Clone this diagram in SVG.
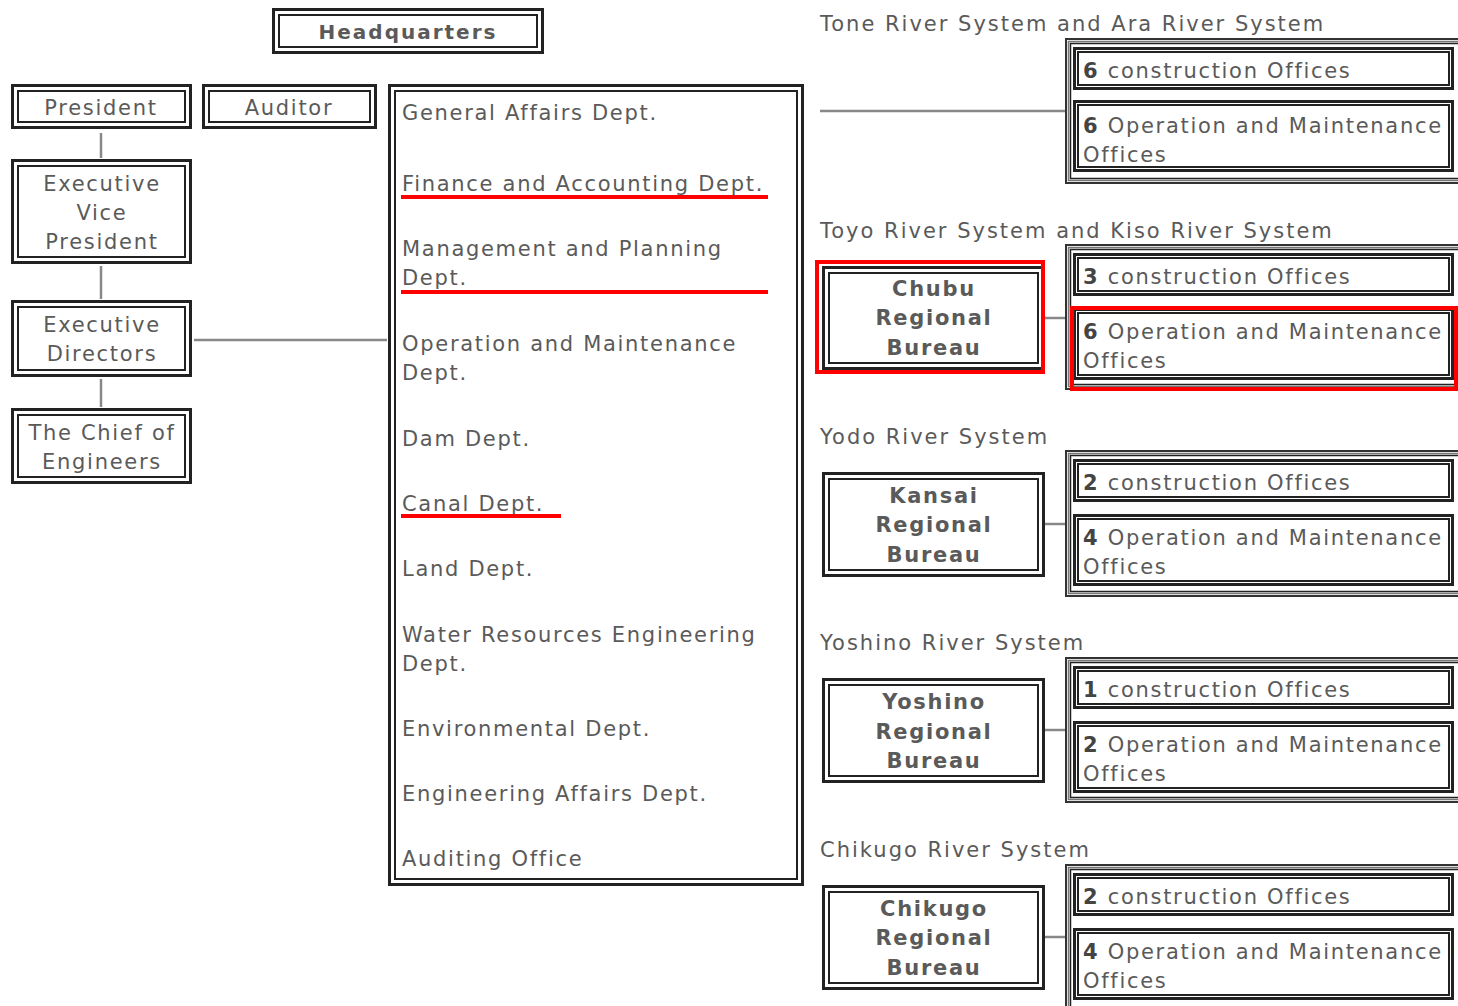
<svg xmlns="http://www.w3.org/2000/svg" width="1458" height="1006" viewBox="0 0 1458 1006">
<style>
text{font-family:"DejaVu Sans","Verdana",sans-serif;fill:#5a5a5a;font-size:21px;letter-spacing:1.7px}
.h{letter-spacing:2px}
.c{text-anchor:middle}
.b{font-weight:bold}
.n{font-weight:bold;fill:#444}
.o{fill:#fff;stroke:#222;stroke-width:3}
.i{fill:none;stroke:#222;stroke-width:2}
.g1{fill:#fff;stroke:#333;stroke-width:2}
.g2{fill:none;stroke:#777;stroke-width:1.5}
.g3{fill:none;stroke:#222;stroke-width:1.5}
.ln{stroke:#888;stroke-width:2.5;fill:none}
.red{fill:none;stroke:#f00;stroke-width:4}
</style>
<rect width="1458" height="1006" fill="#fff"/>
<g id="connectors">
<line class="ln" x1="101" y1="133" x2="101" y2="158"/>
<line class="ln" x1="101" y1="266" x2="101" y2="299"/>
<line class="ln" x1="101" y1="379" x2="101" y2="407"/>
<line class="ln" x1="194" y1="340" x2="387" y2="340"/>
<line class="ln" x1="820" y1="111" x2="1065" y2="111" stroke-width="3"/>
<line class="ln" x1="1045" y1="318" x2="1065" y2="318"/>
<line class="ln" x1="1045" y1="524" x2="1065" y2="524"/>
<line class="ln" x1="1045" y1="730" x2="1065" y2="730"/>
<line class="ln" x1="1045" y1="937" x2="1065" y2="937"/>
</g>
<g id="headquarters">
<rect class="o" x="273.5" y="9.5" width="269" height="43"/><rect class="i" x="279" y="15" width="258" height="32"/>
<text class="c b" x="408" y="39" style="font-size:20px;letter-spacing:2px">Headquarters</text>
</g>
<g id="president">
<rect class="o" x="12.5" y="85.5" width="178" height="42"/><rect class="i" x="18" y="91" width="167" height="31"/>
<text class="c" x="101" y="115">President</text>
</g>
<g id="auditor">
<rect class="o" x="203.5" y="85.5" width="172" height="42"/><rect class="i" x="209" y="91" width="161" height="31"/>
<text class="c" x="289" y="115">Auditor</text>
</g>
<g id="exec-vp">
<rect class="o" x="12.5" y="160.5" width="178" height="102"/><rect class="i" x="18" y="166" width="167" height="91"/>
<text class="c" x="102" y="191">Executive</text><text class="c" x="102" y="220">Vice</text><text class="c" x="102" y="249">President</text>
</g>
<g id="exec-directors">
<rect class="o" x="12.5" y="301.5" width="178" height="74"/><rect class="i" x="18" y="307" width="167" height="63"/>
<text class="c" x="102" y="332">Executive</text><text class="c" x="102" y="361">Directors</text>
</g>
<g id="chief-engineers">
<rect class="o" x="12.5" y="409.5" width="178" height="73"/><rect class="i" x="18" y="415" width="167" height="62"/>
<text class="c" x="102" y="440">The Chief of</text><text class="c" x="102" y="469">Engineers</text>
</g>
<g id="departments">
<rect class="o" x="389.5" y="85.5" width="413" height="799"/><rect class="i" x="395" y="91" width="402" height="788"/>
<text x="402" y="120">General Affairs Dept.</text>
<text x="402" y="191">Finance and Accounting Dept.</text>
<line class="red" x1="401" y1="197" x2="768" y2="197"/>
<text x="402" y="256">Management and Planning</text><text x="402" y="285">Dept.</text>
<line class="red" x1="401" y1="292" x2="768" y2="292"/>
<text x="402" y="351">Operation and Maintenance</text><text x="402" y="380">Dept.</text>
<text x="402" y="446">Dam Dept.</text>
<text x="402" y="511">Canal Dept.</text>
<line class="red" x1="401" y1="516" x2="561" y2="516"/>
<text x="402" y="576">Land Dept.</text>
<text x="402" y="642">Water Resources Engineering</text><text x="402" y="671">Dept.</text>
<text x="402" y="736">Environmental Dept.</text>
<text x="402" y="801">Engineering Affairs Dept.</text>
<text x="402" y="866">Auditing Office</text>
</g>
<g id="tone">
<text class="h" x="820" y="31">Tone River System and Ara River System</text>
<rect class="g1" x="1066" y="39" width="400" height="144"/><rect class="g2" x="1068.5" y="41.5" width="400" height="139"/><rect class="g3" x="1070.5" y="43.5" width="400" height="135"/>
<rect class="o" x="1074.5" y="48.5" width="378" height="40"/><rect class="i" x="1078" y="52" width="371" height="33"/>
<text x="1083" y="78"><tspan class="n">6</tspan> construction Offices</text>
<rect class="o" x="1074.5" y="101.5" width="378" height="69"/><rect class="i" x="1078" y="105" width="371" height="62"/>
<text x="1083" y="133"><tspan class="n">6</tspan> Operation and Maintenance</text><text x="1083" y="162">Offices</text>
</g>
<g id="toyo">
<text class="h" x="820" y="238">Toyo River System and Kiso River System</text>
<rect class="o" x="823.5" y="267.5" width="220" height="101"/><rect class="i" x="829" y="273" width="209" height="90"/>
<text class="c b" x="934" y="296">Chubu</text><text class="c b" x="934" y="325">Regional</text><text class="c b" x="934" y="355">Bureau</text>
<rect class="red" x="817" y="262" width="226" height="110"/>
<rect class="g1" x="1066" y="245" width="400" height="144"/><rect class="g2" x="1068.5" y="247.5" width="400" height="139"/><rect class="g3" x="1070.5" y="249.5" width="400" height="135"/>
<rect class="o" x="1074.5" y="254.5" width="378" height="40"/><rect class="i" x="1078" y="258" width="371" height="33"/>
<text x="1083" y="284"><tspan class="n">3</tspan> construction Offices</text>
<rect class="o" x="1074.5" y="309.5" width="378" height="69"/><rect class="i" x="1078" y="313" width="371" height="62"/>
<text x="1083" y="339"><tspan class="n">6</tspan> Operation and Maintenance</text><text x="1083" y="368">Offices</text>
<rect class="red" x="1072" y="308" width="384" height="81"/>
</g>
<g id="yodo">
<text class="h" x="820" y="444">Yodo River System</text>
<rect class="o" x="823.5" y="473.5" width="220" height="102"/><rect class="i" x="829" y="479" width="209" height="91"/>
<text class="c b" x="934" y="503">Kansai</text><text class="c b" x="934" y="532">Regional</text><text class="c b" x="934" y="562">Bureau</text>
<rect class="g1" x="1066" y="451" width="400" height="145"/><rect class="g2" x="1068.5" y="453.5" width="400" height="140"/><rect class="g3" x="1070.5" y="455.5" width="400" height="136"/>
<rect class="o" x="1074.5" y="460.5" width="378" height="40"/><rect class="i" x="1078" y="464" width="371" height="33"/>
<text x="1083" y="490"><tspan class="n">2</tspan> construction Offices</text>
<rect class="o" x="1074.5" y="515.5" width="378" height="69"/><rect class="i" x="1078" y="519" width="371" height="62"/>
<text x="1083" y="545"><tspan class="n">4</tspan> Operation and Maintenance</text><text x="1083" y="574">Offices</text>
</g>
<g id="yoshino">
<text class="h" x="820" y="650">Yoshino River System</text>
<rect class="o" x="823.5" y="679.5" width="220" height="102"/><rect class="i" x="829" y="685" width="209" height="91"/>
<text class="c b" x="934" y="709">Yoshino</text><text class="c b" x="934" y="739">Regional</text><text class="c b" x="934" y="768">Bureau</text>
<rect class="g1" x="1066" y="658" width="400" height="144"/><rect class="g2" x="1068.5" y="660.5" width="400" height="139"/><rect class="g3" x="1070.5" y="662.5" width="400" height="135"/>
<rect class="o" x="1074.5" y="667.5" width="378" height="40"/><rect class="i" x="1078" y="671" width="371" height="33"/>
<text x="1083" y="697"><tspan class="n">1</tspan> construction Offices</text>
<rect class="o" x="1074.5" y="722.5" width="378" height="69"/><rect class="i" x="1078" y="726" width="371" height="62"/>
<text x="1083" y="752"><tspan class="n">2</tspan> Operation and Maintenance</text><text x="1083" y="781">Offices</text>
</g>
<g id="chikugo">
<text class="h" x="820" y="857">Chikugo River System</text>
<rect class="o" x="823.5" y="886.5" width="220" height="102"/><rect class="i" x="829" y="892" width="209" height="91"/>
<text class="c b" x="934" y="916">Chikugo</text><text class="c b" x="934" y="945">Regional</text><text class="c b" x="934" y="975">Bureau</text>
<rect class="g1" x="1066" y="865" width="400" height="150"/><rect class="g2" x="1068.5" y="867.5" width="400" height="145"/><rect class="g3" x="1070.5" y="869.5" width="400" height="141"/>
<rect class="o" x="1074.5" y="874.5" width="378" height="40"/><rect class="i" x="1078" y="878" width="371" height="33"/>
<text x="1083" y="904"><tspan class="n">2</tspan> construction Offices</text>
<rect class="o" x="1074.5" y="929.5" width="378" height="69"/><rect class="i" x="1078" y="933" width="371" height="62"/>
<text x="1083" y="959"><tspan class="n">4</tspan> Operation and Maintenance</text><text x="1083" y="988">Offices</text>
</g>
</svg>
